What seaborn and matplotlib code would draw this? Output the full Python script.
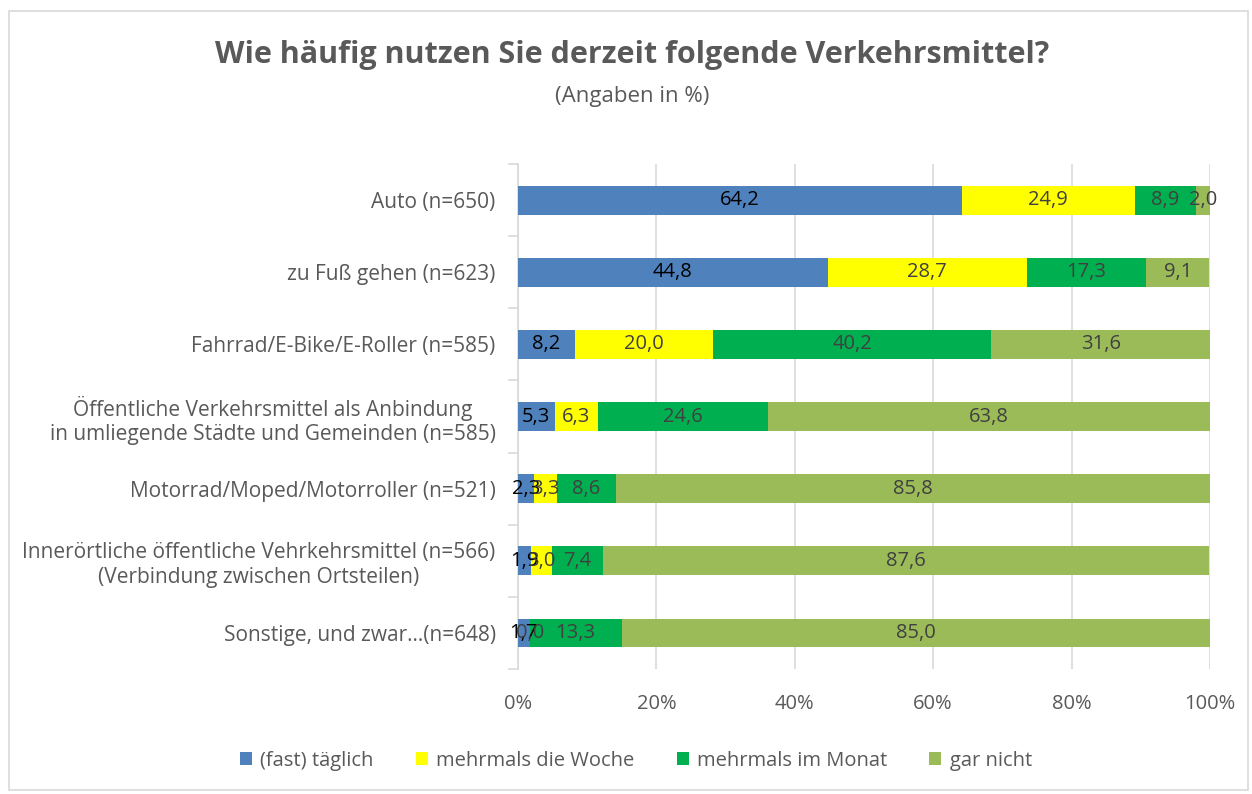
import numpy as np
import pandas as pd
import seaborn as sns
import matplotlib.pyplot as plt
from matplotlib.patches import Rectangle, Patch

sns.set_theme(style="white")
plt.rcParams['font.family'] = ['Open Sans', 'DejaVu Sans']

# data
kategorien = [
    "Auto (n=650)",
    "zu Fuß gehen (n=623)",
    "Fahrrad/E-Bike/E-Roller (n=585)",
    "Öffentliche Verkehrsmittel als Anbindung\nin umliegende Städte und Gemeinden (n=585)",
    "Motorrad/Moped/Motorroller (n=521)",
    "Innerörtliche öffentliche Vehrkehrsmittel (n=566)\n(Verbindung zwischen Ortsteilen)",
    "Sonstige, und zwar…(n=648)",
]
serien = ["(fast) täglich", "mehrmals die Woche", "mehrmals im Monat", "gar nicht"]
taeglich = [64.2, 44.8, 8.2, 5.3, 2.3, 1.9, 1.7]
woche = [24.9, 28.7, 20.0, 6.3, 3.3, 3.0, 0.0]
monat = [8.9, 17.3, 40.2, 24.6, 8.6, 7.4, 13.3]
garnicht = [2.0, 9.1, 31.6, 63.8, 85.8, 87.6, 85.0]

farben = ["#4F81BD", "#FFFF00", "#00B050", "#9BBB59"]
labelfarben = ["black", "#404040", "#404040", "#404040"]

werte = np.array([taeglich, woche, monat, garnicht])
cum = np.cumsum(werte, axis=0)

fig = plt.figure(figsize=(12.52, 7.94), dpi=100)
ax = fig.add_axes([0.4137, 0.1574, 0.5527, 0.636])

# stacked bars: draw cumulative totals from the back
for i in range(3, -1, -1):
    df = pd.DataFrame({"kat": kategorien, "wert": cum[i]})
    sns.barplot(data=df, x="wert", y="kat", color=farben[i], saturation=1,
                width=0.4, ax=ax, zorder=3, edgecolor="none")

# segment labels
for i in range(4):
    for j in range(len(kategorien)):
        mitte = cum[i][j] - werte[i][j] / 2
        ax.text(mitte, j, f"{werte[i][j]:.1f}".replace(".", ","),
                ha="center", va="center", fontsize=14.5,
                color=labelfarben[i], zorder=5)

ax.set_xlim(0, 100)
ax.set_ylim(6.5, -0.5)
ax.set_xticks(np.arange(0, 101, 20))
ax.set_xticklabels([f"{t}%" for t in range(0, 101, 20)])
ax.grid(axis="x", color="#D9D9D9", linewidth=1.2, zorder=0)
ax.set_xlabel("")
ax.set_ylabel("")

for s in ["top", "right", "bottom"]:
    ax.spines[s].set_visible(False)
ax.spines["left"].set_color("#D9D9D9")
ax.spines["left"].set_linewidth(1.2)

ax.tick_params(axis="x", length=0, pad=18, labelsize=14.5, labelcolor="#595959")
ax.tick_params(axis="y", length=0, pad=16, labelsize=15, labelcolor="#595959")
for lab in ax.get_yticklabels():
    lab.set_multialignment("center")
ax.set_yticks(np.arange(-0.5, 7, 1), minor=True)
ax.tick_params(axis="y", which="minor", length=7, color="#D9D9D9", width=1.2, left=True)

fig.text(0.505, 0.931, "Wie häufig nutzen Sie derzeit folgende Verkehrsmittel?",
         ha="center", va="center", fontsize=22, fontweight="bold", color="#595959")
fig.text(0.505, 0.878, "(Angaben in %)", ha="center", va="center",
         fontsize=16, color="#595959")

handles = [Patch(facecolor=f, edgecolor="none") for f in farben]
fig.legend(handles, serien, loc="center", bbox_to_anchor=(0.508, 0.0416), ncol=4,
           frameon=False, fontsize=14.5, labelcolor="#595959", handlelength=0.6,
           handleheight=0.6, handletextpad=0.4, columnspacing=2.1)

fig.patches.append(Rectangle((9 / 1252, 4 / 794), 1239 / 1252, 779 / 794,
                             transform=fig.transFigure, fill=False,
                             edgecolor="#D9D9D9", linewidth=1.2))

fig.savefig("out.png", dpi=100)
